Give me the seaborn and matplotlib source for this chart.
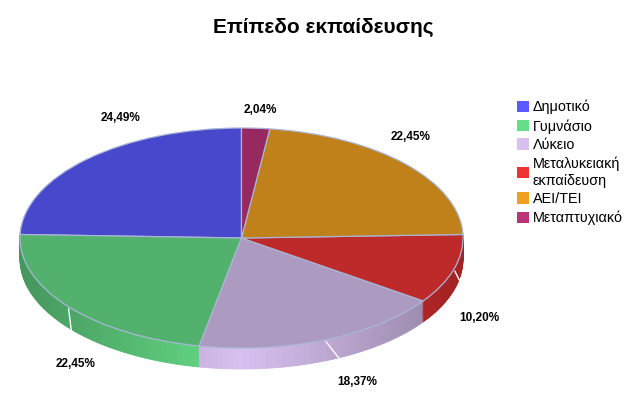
import numpy as np
import matplotlib
matplotlib.use('Agg')
import matplotlib.pyplot as plt
from matplotlib.patches import Patch
import seaborn as sns

# podaci
kategorije = ['Δημοτικό', 'Γυμνάσιο', 'Λύκειο', 'Μεταλυκειακή\nεκπαίδευση', 'ΑΕΙ/ΤΕΙ', 'Μεταπτυχιακό']
postoci = [24.49, 22.45, 18.37, 10.20, 22.45, 2.04]
oznake = ['24,49%', '22,45%', '18,37%', '10,20%', '22,45%', '2,04%']
boje = ['#5a5aff', '#66dd88', '#d8c0f0', '#ee3333', '#f0a020', '#bb3377']

sns.set_style('white')
plt.rcParams['font.family'] = ['Liberation Sans', 'DejaVu Sans']
plt.rcParams['text.color'] = 'black'

W, H = 636, 415
fig = plt.figure(figsize=(W / 100, H / 100), dpi=100)

# geometrija elipse (pikseli)
cx, cy, rx, ry = 241.5, 238.0, 221.5, 110.0
dubina = 21 / ry
m = 1.15
ax = fig.add_axes([(cx - m * rx) / W, (H - (cy + (m + dubina) * ry)) / H,
                   2 * m * rx / W, (2 * m + dubina) * ry / H])

paleta = sns.color_palette(boje)
gornje = [tuple(np.array(c) * 0.8) for c in paleta]

# 1) bočni zid - pita razlomljena na male komadiće sa sjenčanjem po kutu
vals = np.array(postoci) / sum(postoci)
granice = 90 + 360 * np.concatenate([[0], np.cumsum(vals)])
sub_vals, sub_cols = [], []
for i in range(len(vals)):
    n = max(2, int(np.ceil((granice[i + 1] - granice[i]) / 1.5)))
    kutovi = np.linspace(granice[i], granice[i + 1], n + 1)
    for a0, a1 in zip(kutovi[:-1], kutovi[1:]):
        sred = np.radians((a0 + a1) / 2)
        f = 1 - 0.32 * abs(np.cos(sred))
        sub_vals.append(a1 - a0)
        sub_cols.append(tuple(np.clip(np.array(paleta[i]) * f, 0, 1)))

n_slojeva = 22
for k in range(n_slojeva):
    off = -dubina * (1 - k / n_slojeva)
    wedges, _ = ax.pie(sub_vals, colors=sub_cols, startangle=90, counterclock=True,
                       center=(0, off), radius=1, wedgeprops=dict(linewidth=0.6))
    for w in wedges:
        w.set_edgecolor(w.get_facecolor())

# 2) gornja ploha
ax.pie(postoci, colors=gornje, startangle=90, counterclock=True, radius=1,
       wedgeprops=dict(edgecolor='#a9b6d6', linewidth=0.9))

ax.set_aspect('auto')
ax.set_xlim(-m, m)
ax.set_ylim(-m - dubina, m)
ax.axis('off')

# 3) oznake postotaka s bijelim linijama
pomaci = [(33, 41), (7, -57), (33, -42), (25, -49), (5, 27), (5, 18)]
sredine = np.radians((granice[:-1] + granice[1:]) / 2)
for txt, kut, (dx, dy) in zip(oznake, sredine, pomaci):
    ax.annotate(txt, xy=(np.cos(kut), np.sin(kut)), xytext=(dx, dy),
                textcoords='offset pixels', ha='center', va='center',
                fontsize=8.5, fontweight='bold', annotation_clip=False,
                arrowprops=dict(arrowstyle='-', color='white', lw=1, shrinkA=0, shrinkB=1.5))

# 4) naslov i legenda
fig.text(323 / W, 1 - 27 / H, 'Επίπεδο εκπαίδευσης', ha='center', va='center',
         fontsize=15, fontweight='bold')

rucke = [Patch(facecolor=c, edgecolor='none') for c in paleta]
fig.legend(handles=rucke, labels=kategorije, loc='upper left',
           bbox_to_anchor=(517 / W, 1 - 100 / H), frameon=False, fontsize=10.4,
           handlelength=0.85, handleheight=0.85, handletextpad=0.25,
           labelspacing=0.32, borderpad=0, borderaxespad=0)

fig.savefig('out.png', dpi=100)
